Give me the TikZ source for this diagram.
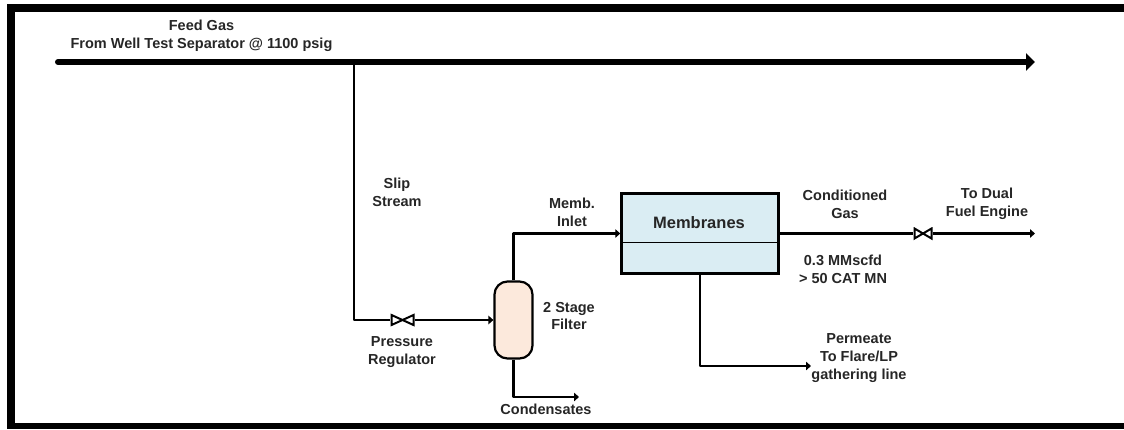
\documentclass[tikz,border=0pt]{standalone}
\usepackage{fontspec}
\setmainfont{Liberation Sans}
\usepackage{tikz}
\usetikzlibrary{arrows.meta}
\definecolor{filterfill}{HTML}{FCE9DC}
\definecolor{membfill}{HTML}{DAEDF3}
\definecolor{labelgrey}{HTML}{262626}
\tikzset{
  lbl/.style={align=center,inner sep=0pt,text=labelgrey,font=\fontsize{14.5}{17.8}\selectfont\bfseries},
  pipe/.style={line width=2.2pt,line join=round},
  flow/.style={pipe,-{Triangle[length=5pt,width=8.5pt]}},
  valve/.style={inner sep=0pt,minimum width=25pt,minimum height=13pt,fill=white,
    path picture={\draw [line width=2pt,line join=miter]
      ([shift={(1.5pt,1.5pt)}]path picture bounding box.south west)
      -- ([shift={(-1.5pt,-1.5pt)}]path picture bounding box.north east)
      -- ([shift={(-1.5pt,1.5pt)}]path picture bounding box.south east)
      -- ([shift={(1.5pt,-1.5pt)}]path picture bounding box.north west) -- cycle;}},
}
\begin{document}
\begin{tikzpicture}[x=1pt,y=-1pt]
\useasboundingbox (0,0) rectangle (1124,429);
% frame
\fill [black] (7,4) rectangle (1124,12);
\fill [black] (7,4) rectangle (15,429);
\fill [black] (7,423) rectangle (1124,429);
% equipment
\node [draw,pipe,fill=filterfill,rounded corners=13pt,minimum width=38pt,minimum height=77pt,inner sep=0pt] (filter) at (513.5,320) {};
\node [draw,line width=2.5pt,fill=membfill,minimum width=157pt,minimum height=80pt,inner sep=0pt] (memb) at (700,233.5) {};
\draw [line width=1pt] (memb.west |- 0,242) -- (memb.east |- 0,242);
\node [lbl,font=\fontsize{16.5}{18}\selectfont\bfseries] (membname) at (699,223) {Membranes};
\node [valve] (reg) at (402.5,320) {};
\node [valve,minimum width=20pt] (fuelvalve) at (923,233.5) {};
% free ends
\coordinate (feedstart) at (58,62);
\coordinate (feedend) at (1035,62);
\coordinate (tap) at (354,62);
\coordinate (enginein) at (1035,233.5);
\coordinate (permout) at (811,366);
\coordinate (condout) at (579,397);
% lines
\draw [line width=6pt,line cap=round,-{Triangle[length=9pt,width=17pt]}] (feedstart) -- (feedend);
\draw [pipe] (tap) |- (reg);
\draw [flow] (reg) -- (filter);
\draw [flow] (filter) |- (memb);
\draw [pipe] (memb) -- (fuelvalve);
\draw [flow] (fuelvalve) -- (enginein);
\draw [flow] (memb) |- (permout);
\draw [flow] (filter) |- (condout);
% labels
\node [lbl] (feedlbl) at (201.5,36) {Feed Gas\\From Well Test Separator @ 1100 psig};
\node [lbl] (sliplbl) at (397,192) {Slip\\Stream};
\node [lbl] (inletlbl) at (572,212) {Memb.\\Inlet};
\node [lbl] (filterlbl) at (569,316) {2 Stage\\Filter};
\node [lbl] (reglbl) at (402,352) {Pressure\\Regulator};
\node [lbl] (condlbl) at (546,409) {Condensates};
\node [lbl] (condgaslbl) at (845,204) {Conditioned\\Gas};
\node [lbl] (enginelbl) at (987,204) {To Dual\\Fuel Engine};
\node [lbl] (ratelbl) at (843,269) {0.3 MMscfd\\> 50 CAT MN};
\node [lbl] (permlbl) at (859,358) {Permeate\\To Flare/LP\\gathering line};
\end{tikzpicture}
\end{document}
